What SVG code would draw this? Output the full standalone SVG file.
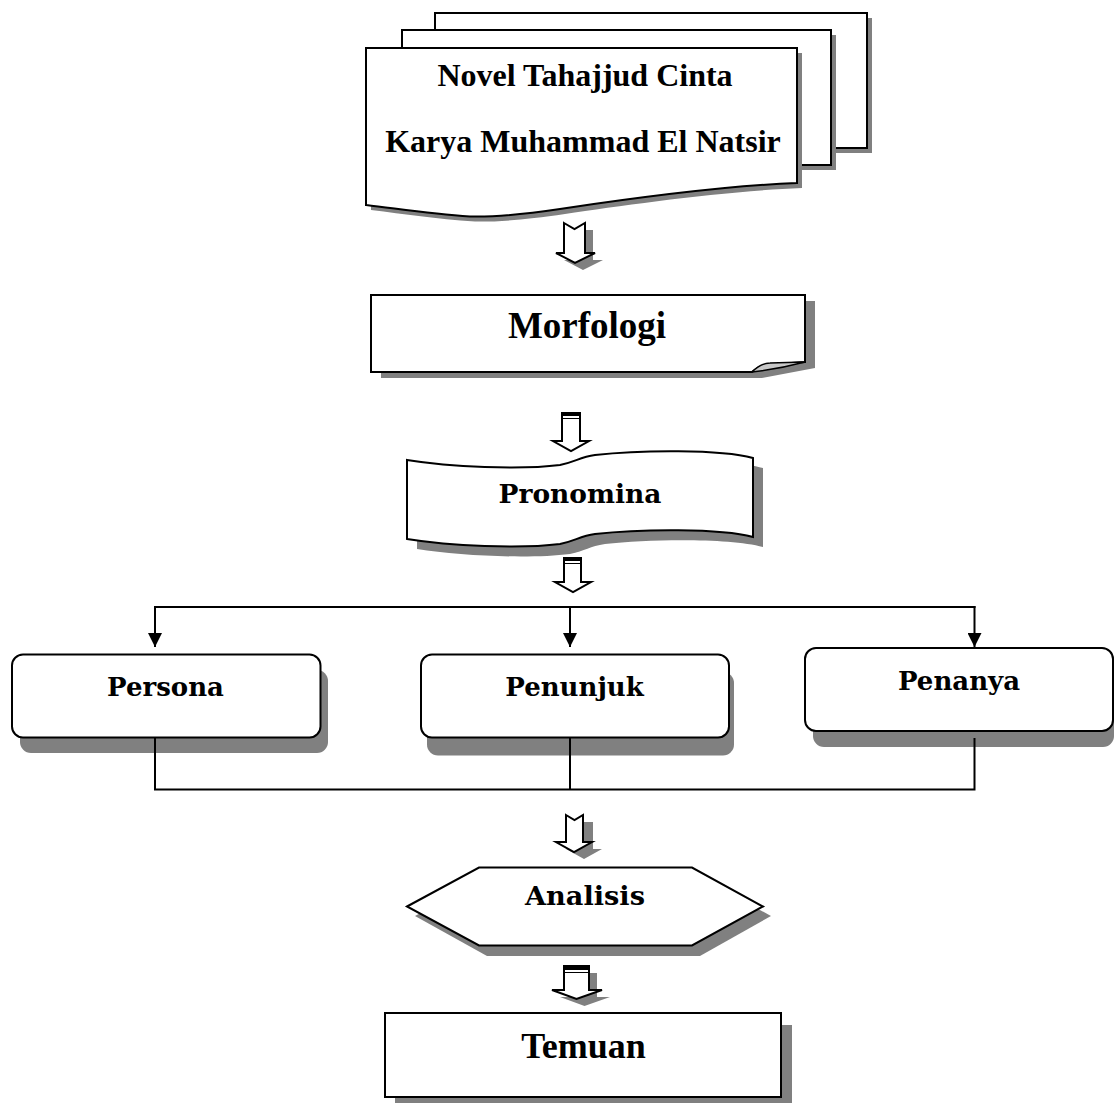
<svg xmlns="http://www.w3.org/2000/svg" width="1114" height="1103" viewBox="0 0 1114 1103">
<style>
.box{fill:#fff;stroke:#000;stroke-width:2}
.sh{fill:#808080;stroke:none}
.ln{fill:none;stroke:#000;stroke-width:2}
.tt{font-family:"Liberation Serif","Times New Roman",serif;font-weight:bold;fill:#000;text-anchor:middle}
.bk{font-family:"DejaVu Serif",serif;font-weight:bold;font-size:26px;fill:#000;text-anchor:middle}
</style>
<defs>
<marker id="ah" viewBox="0 0 10 10" refX="10" refY="5" markerWidth="15" markerHeight="14" markerUnits="userSpaceOnUse" orient="auto">
<path d="M0,0 L10,5 L0,10 Z" fill="#000"/>
</marker>
</defs>
<rect width="1114" height="1103" fill="#fff"/>

<g id="novel">
<rect class="sh" x="440" y="18" width="432" height="135"/>
<rect class="box" x="435" y="13" width="432" height="135"/>
<rect class="sh" x="407" y="35" width="429" height="135"/>
<rect class="box" x="402" y="30" width="429" height="135"/>
<path class="sh" d="M371,53 H802 V188 C725,191 625,205 565,214 C525,220 495,222 475,221.5 C435,219 405,214 371,210 Z"/>
<path class="box" d="M366,48 H797 V183 C720,186 620,200 560,209 C520,215 490,217 470,216.5 C430,214 400,209 366,205 Z"/>
<text class="tt" x="585" y="86" font-size="32">Novel Tahajjud Cinta</text>
<text class="tt" x="583" y="152" font-size="32">Karya Muhammad El Natsir</text>
</g>

<g id="arrow1">
<polygon class="sh" points="572,230 593,230 593,260 603,260 583,270 564,260 572,260"/>
<polygon class="box" points="564,223 574.5,229 585,223 585,253 595,253 575,263 556,253 564,253"/>
</g>

<g id="morfologi">
<path class="sh" d="M381,301 H815 V368 L762,378 H381 Z"/>
<path class="box" d="M371,295 H805 V362 C790,363 775,364 765,365 C758,367 755,370 752,372 H371 Z"/>
<path d="M752,372 C758,366 763,363 770,363 L805,362 C790,366 770,370 752,372 Z" fill="#c8c8c8" stroke="#000" stroke-width="1.5"/>
<text class="tt" x="587" y="338" font-size="37">Morfologi</text>
</g>

<g id="arrow2">
<polygon class="box" points="562,413 580,413 580,441 589,441 571,451 553,441 562,441"/>
<rect x="562" y="413" width="18" height="3" fill="#000"/>
<line x1="562" y1="418.5" x2="580" y2="418.5" stroke="#000" stroke-width="1"/>
</g>

<g id="pronomina">
<path class="sh" d="M417,470 C460,477 530,480 570,475 C585,472 590,467 605,465 C650,460 730,459 763,468 V547 C730,538 650,539 605,544 C590,546 585,551 570,554 C530,559 460,556 417,549 Z"/>
<path class="box" d="M407,460 C450,467 520,470 560,465 C575,462 580,457 595,455 C640,450 720,449 753,458 V537 C720,528 640,529 595,534 C580,536 575,541 560,544 C520,549 450,546 407,539 Z"/>
<text class="bk" x="580" y="503" textLength="163" lengthAdjust="spacingAndGlyphs">Pronomina</text>
</g>

<g id="arrow3">
<polygon class="box" points="564,558 581,558 581,582 591,582 573,592 555,582 564,582"/>
<rect x="564" y="558" width="17" height="3" fill="#000"/>
<line x1="564" y1="563.5" x2="581" y2="563.5" stroke="#000" stroke-width="1"/>
</g>

<g id="persona">
<rect class="sh" x="20" y="670" width="308" height="83" rx="11"/>
<rect class="box" x="12" y="654.5" width="308.5" height="83" rx="11"/>
<text class="bk" x="165.5" y="696">Persona</text>
</g>

<g id="penunjuk">
<rect class="sh" x="427" y="672" width="307" height="83.5" rx="11"/>
<rect class="box" x="421" y="654.5" width="308" height="83" rx="11"/>
<text class="bk" x="574.5" y="696">Penunjuk</text>
</g>

<g id="penanya">
<rect class="sh" x="813" y="664" width="301" height="83" rx="11"/>
<rect class="box" x="805" y="648" width="308" height="83" rx="11"/>
<text class="bk" x="959" y="690">Penanya</text>
</g>

<g id="connectors">
<line class="ln" x1="154" y1="607" x2="975.5" y2="607"/>
<line class="ln" x1="155" y1="606" x2="155" y2="647" marker-end="url(#ah)"/>
<line class="ln" x1="570" y1="607" x2="570" y2="647" marker-end="url(#ah)"/>
<line class="ln" x1="974.5" y1="606" x2="974.5" y2="647" marker-end="url(#ah)"/>
<polyline class="ln" points="155,738 155,789.5 974.5,789.5 974.5,738"/>
<line class="ln" x1="570" y1="738" x2="570" y2="789.5"/>
</g>

<g id="arrow4">
<polygon class="sh" points="576,822 593,822 593,849 602,849 584,859 566,849 576,849"/>
<polygon class="box" points="566,815 574.5,820 583,815 583,842 592,842 574,852 556,842 566,842"/>
</g>

<g id="analisis">
<polygon class="sh" points="415,916 487,877 700,877 771,916 700,956 487,956"/>
<polygon class="box" points="407,906.5 479,867.5 692,867.5 763,906.5 692,945.5 479,945.5"/>
<text class="bk" x="585" y="905" textLength="120" lengthAdjust="spacingAndGlyphs">Analisis</text>
</g>

<g id="arrow5">
<polygon class="sh" points="572,973 597,973 597,997 610,997 584.5,1006 560,997 572,997"/>
<polygon class="box" points="564,966 589,966 589,990 602,990 576.5,999 552,990 564,990"/>
<rect x="564" y="966" width="25" height="4" fill="#000"/>
<line x1="564" y1="972.5" x2="589" y2="972.5" stroke="#000" stroke-width="1"/>
</g>

<g id="temuan">
<rect class="sh" x="395" y="1025" width="397" height="84"/>
<rect class="box" x="385" y="1013" width="396" height="84"/>
<text class="tt" x="583.5" y="1058" font-size="36">Temuan</text>
</g>
</svg>
